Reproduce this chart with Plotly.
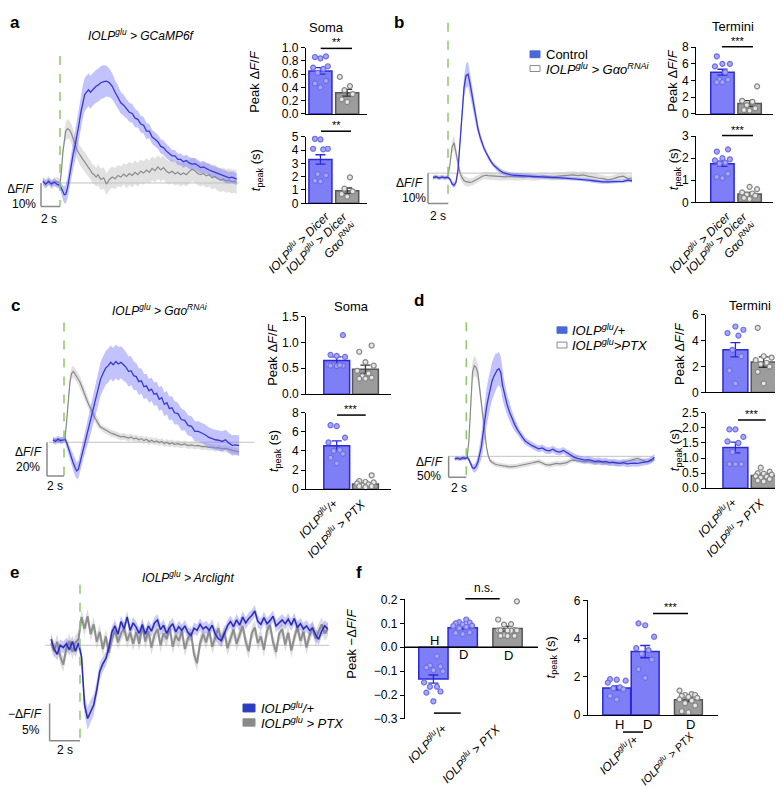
import plotly.graph_objects as go

W, H = 783, 789
FONT = "Liberation Sans, Arial, Helvetica, sans-serif"

# ======================= DATA =======================
# ---- panel a traces (time s, dF/F %) ----
T_A = [-1.8, -1.5, -1.2, -0.9, -0.6, -0.3, 0.0,
       0.15, 0.3, 0.45, 0.6, 0.8, 1.0, 1.2, 1.4, 1.6, 1.8,
       2.0, 2.2, 2.4, 2.6, 2.8, 3.0, 3.2, 3.4, 3.6, 3.8,
       4.0, 4.3, 4.6, 4.9, 5.2, 5.5, 5.8, 6.1, 6.4, 6.7,
       7.0, 7.3, 7.6, 7.9, 8.2, 8.5, 8.8, 9.1, 9.4, 9.7,
       10.0, 10.3, 10.6, 10.9, 11.2, 11.5, 11.8, 12.1, 12.4, 12.7,
       13.0, 13.3, 13.6, 13.9, 14.2, 14.5, 14.8, 15.1, 15.4, 15.7,
       16.0, 16.3, 16.6, 16.9, 17.2, 17.5, 17.8, 18.1, 18.4, 18.6]
A_BLUE = [0.8, -0.5, 0.6, -0.3, 0.4, -0.6, -1.0,
          -2.5, -4.0, -5.0, -4.8, -2.0, 3.0, 8.0, 12.5, 16.0, 20.0,
          25.0, 30.0, 34.5, 37.5, 38.5, 39.5, 38.5, 39.5, 40.5, 41.0,
          41.5, 42.5, 43.0, 43.2, 42.5, 41.0, 38.5, 36.5, 34.0, 33.0,
          31.5, 30.0, 29.5, 27.5, 27.0, 25.0, 24.5, 22.0, 22.0, 19.5,
          18.5, 17.5, 15.5, 15.0, 13.5, 12.5, 11.5, 11.5, 10.0, 10.0,
          9.0, 9.5, 8.5, 8.0, 8.2, 7.5, 6.5, 6.8, 6.0, 5.5,
          5.0, 4.5, 4.0, 3.5, 3.0, 2.5, 2.2, 2.5, 1.8, 1.6]
A_BLUE_SEM = ([1.5] * 7 + [2.5, 3, 3.5, 4, 4.5, 5, 5.5, 6, 6.5, 7] + [7] * 10 +
              [7, 7, 7, 6.5, 6, 5.5, 5, 5, 4.5, 4.5] + [4, 4, 4, 4, 3.5, 3.5, 3.5, 3.5, 3, 3] +
              [3] * 6 + [2.5] * 24)
A_GRAY = [0.5, -0.5, 1.0, -0.8, 0.3, 0.6, -0.2,
          5.0, 13.0, 19.0, 22.0, 23.0, 22.5, 21.0, 18.5, 16.0, 14.0,
          12.5, 11.0, 10.0, 9.0, 7.5, 6.5, 5.5, 4.0, 3.5, 2.5,
          3.5, 1.5, 2.2, -0.5, 1.5, 2.5, 1.8, 3.2, 2.5, 3.8,
          2.8, 4.0, 3.2, 4.5, 3.5, 5.0, 4.2, 5.5, 4.5, 6.2,
          5.2, 6.8, 5.5, 6.5, 5.0, 4.2, 5.0, 3.8, 4.5, 3.5,
          4.2, 3.5, 4.8, 5.8, 5.2, 4.0, 3.5, 4.0, 3.0, 3.5,
          2.2, 2.8, 1.8, 1.2, 1.6, 0.8, 1.2, 0.5, 0.8, 0.4]
A_GRAY_SEM = [2] * 7 + [2, 3, 3.5, 4, 4, 4, 4, 4, 4, 4] + [4] * 10 + [4.5] * 10 + [5] * 40

# ---- panel b traces ----
T_B = [-1.5, -1.2, -0.9, -0.6, -0.3, 0.0,
       0.2, 0.4, 0.6, 0.8, 1.0, 1.2, 1.4, 1.6, 1.8, 2.0,
       2.2, 2.4, 2.6, 2.8, 3.0, 3.2, 3.4, 3.6, 3.8, 4.0,
       4.3, 4.6, 4.9, 5.2, 5.5, 5.8, 6.2, 6.6, 7.0, 7.5,
       8.0, 8.5, 9.0, 9.5, 10.0, 10.5, 11.0, 11.5, 12.0, 12.5,
       13.0, 13.5, 14.0, 14.5, 15.0, 15.5, 16.0, 16.5, 17.0, 17.5,
       18.0, 18.4]
B_BLUE = [-1.5, -1.2, -1.6, -1.3, -1.5, -1.4,
          -2.0, -3.5, -4.0, -3.0, 1.0, 10.0, 20.0, 28.0, 32.0, 32.5,
          29.5, 25.5, 21.5, 17.5, 14.5, 12.0, 10.0, 8.2, 6.8, 5.5,
          3.8, 2.5, 1.5, 0.8, 0.2, -0.2, -0.5, -0.7, -0.8, -0.9,
          -1.0, -1.1, -1.2, -1.3, -1.4, -1.5, -1.5, -1.6, -1.7, -1.8,
          -1.9, -2.1, -2.3, -2.5, -2.8, -2.9, -2.9, -2.8, -2.6, -2.7,
          -2.3, -2.5]
B_BLUE_SEM = ([0.6] * 6 + [0.6, 0.8, 1, 1, 1.5, 2.5, 3, 3.5, 4, 4] +
              [3.5, 3, 2.5, 2, 1.8, 1.5, 1.2, 1, 1, 1] + [0.8] * 10 + [0.6] * 22)
B_GRAY = [-1.4, -1.2, -1.5, -1.3, -1.6, -1.0,
          3.0, 8.5, 10.0, 7.0, 3.0, 0.0, -1.5, -2.4, -2.8, -3.0,
          -3.0, -2.9, -2.6, -2.2, -2.0, -1.5, -1.0, -0.8, -0.7, -0.8,
          -0.9, -1.0, -1.1, -1.2, -1.3, -1.2, -1.1, -1.2, -1.3, -1.2,
          -1.1, -1.3, -1.2, -1.0, -1.1, -1.2, -1.0, -0.9, -0.7, -0.6,
          -0.8, -0.6, -1.0, -1.4, -1.6, -1.8, -2.2, -1.9, -1.3, -1.0,
          -1.8, -1.6]
B_GRAY_SEM = [0.8] * 6 + [1, 2, 2.5, 2, 1.5, 1.5, 1.5, 1.5, 1.5, 1.5] + [1.2] * 42

# ---- panel c traces ----
T_C = [-1.3, -1.0, -0.7, -0.4, -0.1, 0.1,
       0.3, 0.5, 0.7, 0.9, 1.1, 1.3, 1.5, 1.7, 1.9, 2.1,
       2.3, 2.5, 2.7, 2.9, 3.1, 3.3, 3.5, 3.7, 3.9, 4.1,
       4.3, 4.6, 4.9, 5.2, 5.5, 5.8, 6.1, 6.4, 6.7, 7.0,
       7.3, 7.6, 7.9, 8.2, 8.5, 8.8, 9.1, 9.4, 9.7, 10.0,
       10.3, 10.6, 10.9, 11.2, 11.5, 11.8, 12.1, 12.4, 12.7, 13.0,
       13.4, 13.8, 14.2, 14.6, 15.0, 15.4, 15.8, 16.2, 16.6, 17.0,
       17.4, 17.8, 18.2, 18.6, 19.0, 19.4, 19.8, 20.2, 20.6]
C_BLUE = [1.5, 0.5, 2.0, 0.8, 1.5, 2.0,
          0.0, -3.5, -6.5, -9.5, -12.5, -15.0, -17.0, -16.0, -12.0, -7.5,
          -3.5, 1.0, 4.5, 8.0, 12.5, 16.0, 20.0, 24.5, 28.5, 33.0,
          37.5, 41.0, 44.0, 45.5, 47.5, 46.0, 48.0, 46.5, 47.5, 46.0,
          44.5, 42.0, 42.5, 39.5, 39.0, 36.0, 36.5, 33.0, 33.5, 30.5,
          31.5, 28.5, 29.0, 25.5, 26.5, 22.5, 23.5, 20.0, 20.5, 17.5,
          17.0, 13.5, 13.0, 10.0, 9.5, 6.5, 6.5, 5.5, 4.5, 3.0,
          2.0, 1.5, 1.2, 0.5, 1.5, -0.5, -1.8, -1.5, -2.0]
C_BLUE_SEM = ([2] * 6 + [2, 3, 3.5, 4, 4.5, 5, 5, 5, 5.5, 6] +
              [6, 6.5, 7, 7.5, 8, 8, 8.5, 9, 9, 9.5] + [10] * 8 + [9.5] * 2 +
              [9, 9, 8.5, 8.5, 8, 8, 7.5, 7.5, 7, 7] + [7] * 10 + [6.5] * 2 + [6] * 17)
C_GRAY = [0.8, 1.5, 0.5, 1.8, 1.0, 1.5,
          12.0, 26.0, 36.0, 41.0, 42.0, 40.5, 39.0, 37.5, 35.5, 33.0,
          30.0, 27.5, 25.0, 22.5, 20.0, 18.0, 16.0, 14.0, 12.0, 10.5,
          9.0, 8.0, 7.0, 6.5, 5.5, 5.0, 4.5, 4.0, 3.2, 3.5,
          2.8, 2.5, 3.2, 2.0, 2.6, 1.5, 2.2, 1.0, 1.8, 0.5,
          1.2, 0.2, 0.8, -0.2, 0.5, -0.8, 0.0, -1.0, -0.4, -1.2,
          -0.8, -1.5, -1.0, -2.0, -1.6, -2.2, -1.8, -2.6, -2.4, -3.0,
          -2.8, -3.4, -3.2, -3.9, -3.6, -4.4, -4.8, -5.2, -5.8]
C_GRAY_SEM = ([1.5] * 6 + [2, 3, 3.5, 3.5, 3.5, 3.5, 3.5, 3.5, 3.5, 3.5] +
              [3.5, 3, 3, 3, 3, 3, 2.5, 2.5, 2.5, 2.5] + [2] * 49)

# ---- panel d traces ----
T_D = [-1.3, -1.0, -0.7, -0.4, -0.1, 0.1,
       0.3, 0.5, 0.7, 0.9, 1.1, 1.3, 1.5, 1.7, 1.9, 2.1,
       2.3, 2.5, 2.7, 2.9, 3.1, 3.3, 3.5, 3.7, 3.9, 4.1,
       4.3, 4.6, 4.9, 5.2, 5.5, 5.8, 6.1, 6.4, 6.7, 7.0,
       7.4, 7.8, 8.2, 8.6, 9.0, 9.4, 9.8, 10.2, 10.6, 11.0,
       11.4, 11.8, 12.2, 12.6, 13.0, 13.4, 13.8, 14.2, 14.6, 15.0,
       15.4, 15.8, 16.2, 16.6, 17.0, 17.4, 17.8, 18.2, 18.6, 19.0,
       19.4, 19.8, 20.2, 20.6, 21.0, 21.3]
D_BLUE = [-6, -4, -7, -3, -5, -2,
          -8, -18, -27, -29, -24, -15, 3, 22, 55, 88,
          118, 140, 160, 178, 190, 200, 206, 209, 200, 170,
          150, 125, 105, 88, 75, 63, 52, 44, 36, 31,
          26, 22, 18, 20, 15, 13, 17, 12, 10, 14,
          8, 4, -2, -5, -7, -9, -8, -10, -12, -11,
          -13, -12, -15, -14, -16, -17, -15, -18, -17, -16,
          -17, -15, -13, -12, -8, -2]
D_BLUE_SEM = ([5] * 6 + [5, 6, 8, 10, 12, 15, 20, 30, 40, 45] +
              [45, 45, 45, 45, 45, 45, 40, 40, 38, 35] +
              [30, 25, 22, 18, 15, 12, 10, 10, 9, 9] + [8] * 36)
D_GRAY = [-5, -6, -4, -6, -5, -3,
          40, 130, 200, 216, 212, 200, 165, 125, 90, 50,
          20, 0, -10, -14, -17, -19, -20, -21, -22, -22,
          -23, -24, -25, -25, -24, -23, -22, -21, -20, -18,
          -16, -14, -12, -16, -20, -21, -19, -17, -18, -17,
          -15, -10, -9, -11, -12, -13, -12, -14, -15, -14,
          -15, -16, -15, -16, -17, -16, -14, -12, -10, -7,
          -5, -8, -12, -13, -10, -8]
D_GRAY_SEM = [4] * 6 + [10, 20, 25, 25, 22, 20, 18, 15, 12, 10] + [6] * 56

# ---- panel e traces (sampled every 0.2 s from -1.9 s), -dF/F % ----
E_T0, E_DT = -1.9, 0.2
E_BLUE = [0.8, -0.5, -1.2, 0.0, -0.3, 0.2, -0.6, 0.5, -0.8, 0.3,
          -1.5, -8.0, -9.8, -8.8, -8.0, -6.0, -3.5, -2.5, -1.8, -0.3,
          1.8, 2.6, 1.5, 3.2, 2.2, 3.8, 2.0, 3.0,
          2.4, 1.6, 2.8, 1.5, 2.6, 1.9, 3.0, 3.4, 2.1, 2.7,
          1.6, 2.4, 2.9, 1.8, 2.5, 2.0, 2.6, 1.7, 1.3, 2.3,
          2.0, 2.8, 2.2, 2.5, 2.0, 2.7, 1.5, 0.9, 0.6, 1.6,
          2.6, 3.2, 2.5, 3.4, 2.7, 3.8, 3.0, 3.6, 4.0, 4.6,
          3.2, 2.8, 3.7, 2.9, 3.3, 3.9, 2.6, 3.0, 3.4, 2.9,
          3.5, 2.7, 3.6, 2.4, 2.9, 2.2, 2.6, 2.0, 2.3, 1.4,
          0.8, 1.9, 2.6, 2.2]
E_BLUE_SEM = [0.8] * 10 + [1.0, 1.3, 1.5, 1.5, 1.4, 1.3, 1.2, 1.0, 1.0, 0.9] + [0.8] * 72
E_GRAY = [0.3, -0.8, 0.5, -1.5, -2.6, -0.4, 0.6, -0.9, 0.4, 0.8,
          3.8, 2.2, 3.9, 1.5, 2.8, 0.5, 1.8, -0.5, 1.2, -1.0,
          0.8, 2.0, 0.4, 1.6, 2.3, 0.6, 1.7, 0.2,
          1.8, 0.2, 2.5, 0.5, 1.9, -0.3, 1.4, 2.2, 0.0, 1.6,
          0.8, 2.4, -0.2, 1.3, 0.6, 1.9, -0.5, 0.9, 1.7, -1.2,
          -2.4, 0.3, 1.5, 0.4, 2.0, -0.2, 1.1, 2.3, 0.7, 1.8,
          -0.4, 0.9, 2.1, 0.2, 1.4, 2.6, 0.5, -0.8, 1.6, 2.4,
          0.3, 1.2, -0.6, 1.9, 2.7, 0.4, -0.9, 1.5, 2.2, 0.1,
          1.7, -0.7, 1.0, 2.5, 0.6, 1.8, -0.3, 1.3, 2.4, 0.9,
          1.9, 2.8, 1.6, 2.2]
E_GRAY_SEM = [1.0] * 92

# ---- bar data: means, sems and individual points ----
A_PEAK_MEAN, A_PEAK_SEM = [0.65, 0.32], [0.05, 0.05]
A_PEAK_CTRL = [0.87, 0.86, 0.84, 0.72, 0.70, 0.68, 0.62, 0.50, 0.46, 0.40]
A_PEAK_RNAI = [0.56, 0.42, 0.36, 0.30, 0.22, 0.18]
A_TPK_MEAN, A_TPK_SEM = [3.3, 0.95], [0.35, 0.2]
A_TPK_CTRL = [4.8, 4.85, 4.1, 4.1, 4.05, 2.2, 2.1, 1.7, 1.65]
A_TPK_RNAI = [1.95, 1.1, 0.9, 0.7, 0.5]

B_PEAK_MEAN, B_PEAK_SEM = [5.0, 1.25], [0.35, 0.35]
B_PEAK_CTRL = [6.9, 6.0, 6.0, 5.7, 5.0, 4.1, 4.1, 3.8, 3.8]
B_PEAK_RNAI = [3.3, 1.57, 1.45, 1.06, 0.67, 0.47, 0.4]
B_TPK_MEAN, B_TPK_SEM = [1.75, 0.38], [0.12, 0.07]
B_TPK_CTRL = [2.4, 2.3, 2.0, 1.95, 1.9, 1.8, 1.75, 1.3, 1.15, 1.1]
B_TPK_RNAI = [0.7, 0.6, 0.45, 0.4, 0.35, 0.3, 0.2, 0.15]

C_PEAK_MEAN, C_PEAK_SEM = [0.65, 0.48], [0.07, 0.08]
C_PEAK_CTRL = [1.14, 0.76, 0.74, 0.72, 0.57, 0.56, 0.55, 0.55, 0.54, 0.56]
C_PEAK_PTX = [0.94, 0.82, 0.62, 0.55, 0.45, 0.40, 0.35, 0.32, 0.30, 0.30]
C_TPK_MEAN, C_TPK_SEM = [4.55, 0.55], [0.5, 0.12]
C_TPK_CTRL = [6.7, 6.6, 5.4, 4.9, 4.1, 4.0, 3.7, 3.3, 2.7]
C_TPK_PTX = [1.45, 0.85, 0.75, 0.7, 0.6, 0.5, 0.4, 0.3, 0.2, 0.3]

D_PEAK_MEAN, D_PEAK_SEM = [3.3, 2.35], [0.55, 0.4]
D_PEAK_CTRL = [5.1, 4.85, 4.6, 4.4, 3.3, 2.8, 1.7, 0.7]
D_PEAK_PTX = [5.0, 2.8, 2.7, 2.5, 2.3, 2.2, 2.0, 1.6, 0.7]
D_TPK_MEAN, D_TPK_SEM = [1.35, 0.42], [0.18, 0.05]
D_TPK_CTRL = [1.95, 1.95, 1.7, 1.55, 1.5, 1.2, 0.8, 0.8, 0.8]
D_TPK_PTX = [0.68, 0.55, 0.5, 0.48, 0.45, 0.4, 0.38, 0.35, 0.3, 0.25, 0.22]

F_PEAK_MEAN, F_PEAK_SEM = [-0.133, 0.082, 0.078], [0.017, 0.006, 0.01]
F_PEAK_H = [-0.037, -0.076, -0.08, -0.085, -0.096, -0.10, -0.147, -0.165, -0.165, -0.185, -0.19, -0.226]
F_PEAK_D = [0.116, 0.105, 0.103, 0.1, 0.095, 0.09, 0.089, 0.085, 0.08, 0.062, 0.055, 0.06]
F_PEAK_PTX = [0.192, 0.116, 0.097, 0.095, 0.072, 0.07, 0.07, 0.069, 0.07, 0.071, 0.05, 0.048, 0.047, 0.048]
F_TPK_MEAN, F_TPK_SEM = [1.42, 3.32, 0.8], [0.1, 0.32, 0.1]
F_TPK_H = [1.88, 1.85, 1.8, 1.7, 1.45, 1.4, 1.35, 1.0, 0.82]
F_TPK_D = [4.8, 4.7, 4.1, 3.5, 3.4, 3.2, 2.9, 2.4, 1.95]
F_TPK_PTX = [1.28, 1.1, 1.05, 1.05, 1.0, 0.95, 0.9, 0.82, 0.75, 0.62, 0.5, 0.2, 0.15]

# ======================= FIGURE =======================
fig = go.Figure()
axes = {}
shapes = []
annotations = []
n_ax = [0]

COL = {
    'blue': dict(fill='#7e7ef6', edge='#2a2ad8', pfill='#a8a8f8', pedge='#6e6ee6', err='#2a2ad8'),
    'gray': dict(fill='#9c9c9c', edge='#555555', pfill='#e6e6e6', pedge='#858585', err='#333333'),
}


def new_axes(x0, x1, y0, y1, xr, yr):
    n_ax[0] += 1
    k = n_ax[0]
    s = '' if k == 1 else str(k)
    axes['xaxis' + s] = dict(domain=[x0 / W, x1 / W], range=xr, anchor='y' + s,
                             visible=False, fixedrange=True, showgrid=False, zeroline=False)
    axes['yaxis' + s] = dict(domain=[1 - y1 / H, 1 - y0 / H], range=yr, anchor='x' + s,
                             visible=False, fixedrange=True, showgrid=False, zeroline=False)
    return 'x' + s, 'y' + s, s


def text(xp, yp, s, size=12, xa='center', ya='middle', angle=0, align='center', color='black'):
    annotations.append(dict(x=xp / W, y=1 - yp / H, xref='paper', yref='paper', text=s,
                            showarrow=False, xanchor=xa, yanchor=ya, textangle=angle, align=align,
                            font=dict(size=size, family=FONT, color=color), borderpad=0))


def pline(x0, x1, y0, y1, color='black', width=1.3):
    shapes.append(dict(type='line', xref='paper', yref='paper', x0=x0 / W, x1=x1 / W,
                       y0=1 - y0 / H, y1=1 - y1 / H, line=dict(color=color, width=width)))


def prect(x0, y0, x1, y1, fill, edge):
    shapes.append(dict(type='rect', xref='paper', yref='paper', x0=x0 / W, x1=x1 / W,
                       y0=1 - y1 / H, y1=1 - y0 / H, fillcolor=fill, line=dict(color=edge, width=1)))


STYLE_STD = dict(bline='#3838d4', bw=1.3, bband='rgba(120,120,250,0.45)',
                 gline='#8a8a8a', gw=1.2, gband='rgba(195,195,195,0.5)')
STYLE_E = dict(bline='#2c2cb8', bw=1.6, bband='rgba(105,105,235,0.35)',
               gline='#8e8e8e', gw=2.0, gband='rgba(160,160,160,0.35)')


def trace_panel(box, t0px, pxs, y0py, pxpct, t, blue, bsem, gray, gsem, style,
                base_x, scale_y, green_top):
    xa, ya, s = new_axes(box[0], box[1], box[2], box[3],
                         [(box[0] - t0px) / pxs, (box[1] - t0px) / pxs],
                         [(y0py - box[3]) / pxpct, (y0py - box[2]) / pxpct])
    shapes.append(dict(type='line', xref=xa, yref=ya, x0=base_x[0], x1=base_x[1], y0=0, y1=0,
                       line=dict(color='#c2c2c2', width=1), layer='below'))
    for y, sem, band, lc, lw in [(gray, gsem, style['gband'], style['gline'], style['gw']),
                                 (blue, bsem, style['bband'], style['bline'], style['bw'])]:
        n = min(len(t), len(y), len(sem))
        tt = list(t[:n])
        up = [y[i] + sem[i] for i in range(n)]
        lo = [y[i] - sem[i] for i in range(n)]
        fig.add_trace(go.Scatter(x=tt + tt[::-1], y=up + lo[::-1], fill='toself', fillcolor=band,
                                 mode='lines', line=dict(width=0), hoverinfo='skip',
                                 showlegend=False, xaxis=xa, yaxis=ya))
        fig.add_trace(go.Scatter(x=tt, y=list(y[:n]), mode='lines', line=dict(color=lc, width=lw),
                                 showlegend=False, xaxis=xa, yaxis=ya))
    shapes.append(dict(type='line', xref=xa, yref=ya, x0=0, x1=0, y0=green_top, y1=scale_y[1],
                       line=dict(color='#8dc76c', width=1.5, dash='dash')))
    shapes.append(dict(type='line', xref=xa, yref=ya, x0=-2, x1=-2, y0=scale_y[0], y1=scale_y[1],
                       line=dict(color='#8a8a8a', width=1.5)))
    shapes.append(dict(type='line', xref=xa, yref=ya, x0=-2, x1=0, y0=scale_y[1], y1=scale_y[1],
                       line=dict(color='#8a8a8a', width=1.5)))


def jitter(vals, width):
    order = sorted(range(len(vals)), key=lambda i: vals[i])
    pattern = [0.0, -0.24, 0.24, -0.12, 0.12, -0.32, 0.32]
    offs = [0.0] * len(vals)
    for r, i in enumerate(order):
        offs[i] = pattern[r % len(pattern)] * width
    return offs


def bar_panel(box, xr, yr, tickvals, tickfmt, bars, width, xline=True):
    xa, ya, s = new_axes(box[0], box[1], box[2], box[3], xr, yr)
    axes['xaxis' + s].update(visible=True, showline=xline, linecolor='black', linewidth=1.3,
                             showticklabels=False, ticks='')
    axes['yaxis' + s].update(visible=True, showline=True, linecolor='black', linewidth=1.3,
                             ticks='outside', ticklen=4, tickwidth=1.3, tickcolor='black',
                             tickvals=tickvals, tickformat=tickfmt,
                             tickfont=dict(size=12, family=FONT, color='black'))
    for pos, mean, sem, pts, kind in bars:
        c = COL[kind]
        fig.add_trace(go.Bar(x=[pos], y=[mean], width=[width],
                             marker=dict(color=c['fill'], line=dict(color=c['edge'], width=1.5)),
                             error_y=dict(type='data', array=[sem], color=c['err'], thickness=1.3, width=5),
                             showlegend=False, xaxis=xa, yaxis=ya, hoverinfo='skip'))
        offs = jitter(pts, width)
        fig.add_trace(go.Scatter(x=[pos + o for o in offs], y=pts, mode='markers',
                                 marker=dict(size=5, color=c['pfill'], line=dict(color=c['pedge'], width=1.2)),
                                 showlegend=False, xaxis=xa, yaxis=ya, hoverinfo='skip', cliponaxis=False))
    return xa, ya


# ---------- panel a ----------
trace_panel((28, 238, 28, 200), 52, 9.5, 171, 2.4, T_A, A_BLUE, A_BLUE_SEM, A_GRAY, A_GRAY_SEM,
            STYLE_STD, (-1.8, 18.8), (0, -10), 53.9)
bar_panel((298, 359, 33.3, 100.7), [-0.54, 1.74], [0, 1.0], [0, 0.2, 0.4, 0.6, 0.8, 1.0], '.1f',
          [(0, A_PEAK_MEAN[0], A_PEAK_SEM[0], A_PEAK_CTRL, 'blue'),
           (1, A_PEAK_MEAN[1], A_PEAK_SEM[1], A_PEAK_RNAI, 'gray')], 0.86)
bar_panel((298, 359, 124, 191.7), [-0.54, 1.74], [0, 5], [0, 1, 2, 3, 4, 5], 'd',
          [(0, A_TPK_MEAN[0], A_TPK_SEM[0], A_TPK_CTRL, 'blue'),
           (1, A_TPK_MEAN[1], A_TPK_SEM[1], A_TPK_RNAI, 'gray')], 0.86)

# ---------- panel b ----------
trace_panel((414, 632, 0, 200), 440, 10, 161, 3.1, T_B, B_BLUE, B_BLUE_SEM, B_GRAY, B_GRAY_SEM,
            STYLE_STD, (-2.0, 18.4), (0, -10), 49.4)
bar_panel((688.3, 765, 32.7, 100.7), [-0.96, 1.86], [0, 8], [0, 2, 4, 6, 8], 'd',
          [(0, B_PEAK_MEAN[0], B_PEAK_SEM[0], B_PEAK_CTRL, 'blue'),
           (1, B_PEAK_MEAN[1], B_PEAK_SEM[1], B_PEAK_RNAI, 'gray')], 0.86)
bar_panel((688.3, 765, 123.3, 190.7), [-0.96, 1.86], [0, 3], [0, 1, 2, 3], 'd',
          [(0, B_TPK_MEAN[0], B_TPK_SEM[0], B_TPK_CTRL, 'blue'),
           (1, B_TPK_MEAN[1], B_TPK_SEM[1], B_TPK_RNAI, 'gray')], 0.86)

# ---------- panel c ----------
trace_panel((34, 250, 305, 475), 56, 8.5, 435, 1.715, T_C, C_BLUE, C_BLUE_SEM, C_GRAY, C_GRAY_SEM,
            STYLE_STD, (-1.8, 22.4), (0, -20), 71.1)
bar_panel((298.3, 383, 307, 386), [-1.06, 1.89], [0, 1.5], [0, 0.5, 1.0, 1.5], '.1f',
          [(0, C_PEAK_MEAN[0], C_PEAK_SEM[0], C_PEAK_CTRL, 'blue'),
           (1, C_PEAK_MEAN[1], C_PEAK_SEM[1], C_PEAK_PTX, 'gray')], 0.9)
bar_panel((298.3, 383, 405, 482.7), [-1.06, 1.89], [0, 8], [0, 2, 4, 6, 8], 'd',
          [(0, C_TPK_MEAN[0], C_TPK_SEM[0], C_TPK_CTRL, 'blue'),
           (1, C_TPK_MEAN[1], C_TPK_SEM[1], C_TPK_PTX, 'gray')], 0.9)

# ---------- panel d ----------
trace_panel((436, 652, 300, 476), 458.3, 8.83, 449.3, 0.427, T_D, D_BLUE, D_BLUE_SEM, D_GRAY, D_GRAY_SEM,
            STYLE_STD, (-2.0, 21.1), (0, -50), 319.7)
bar_panel((698.3, 781.7, 305.3, 384.3), [-1.03, 1.92], [0, 6], [0, 2, 4, 6], 'd',
          [(0, D_PEAK_MEAN[0], D_PEAK_SEM[0], D_PEAK_CTRL, 'blue'),
           (1, D_PEAK_MEAN[1], D_PEAK_SEM[1], D_PEAK_PTX, 'gray')], 0.88)
bar_panel((698.3, 781.7, 405, 481.7), [-1.03, 1.92], [0, 2.5], [0, 0.5, 1.0, 1.5, 2.0, 2.5], '.1f',
          [(0, D_TPK_MEAN[0], D_TPK_SEM[0], D_TPK_CTRL, 'blue'),
           (1, D_TPK_MEAN[1], D_TPK_SEM[1], D_TPK_PTX, 'gray')], 0.88)

# ---------- panel e ----------
T_E = [round(E_T0 + E_DT * i, 2) for i in range(len(E_BLUE))]
trace_panel((34, 326, 575, 745), 72, 15.2, 641.7, 7.6, T_E, E_BLUE, E_BLUE_SEM, E_GRAY, E_GRAY_SEM,
            STYLE_E, (-2.3, 16.4), (-7.8, -12.8), 8.1)

# ---------- panel f ----------
fxa, fya = bar_panel((397, 530, 595, 716.7), [-0.97, 3.57], [-0.3, 0.2],
                     [-0.3, -0.2, -0.1, 0.0, 0.1, 0.2], '.1f',
                     [(0, F_PEAK_MEAN[0], F_PEAK_SEM[0], F_PEAK_H, 'blue'),
                      (1, F_PEAK_MEAN[1], F_PEAK_SEM[1], F_PEAK_D, 'blue'),
                      (2.53, F_PEAK_MEAN[2], F_PEAK_SEM[2], F_PEAK_PTX, 'gray')], 1.0, xline=False)
shapes.append(dict(type='line', xref=fxa, yref=fya, x0=-0.97, x1=3.57, y0=0, y1=0,
                   line=dict(color='black', width=1.3)))
bar_panel((580, 710, 596, 712.7), [-1.01, 3.56], [0, 6], [0, 2, 4, 6], 'd',
          [(0, F_TPK_MEAN[0], F_TPK_SEM[0], F_TPK_H, 'blue'),
           (1, F_TPK_MEAN[1], F_TPK_SEM[1], F_TPK_D, 'blue'),
           (2.52, F_TPK_MEAN[2], F_TPK_SEM[2], F_TPK_PTX, 'gray')], 0.98)

# ======================= TEXT =======================
IOLP = "<i>IOLP<sup>glu</sup>"
for lbl, x, y in [('a', 7, 8), ('b', 391, 8), ('c', 7, 296), ('d', 411, 291), ('e', 6, 568), ('f', 351, 568)]:
    text(x, y, '<b>%s</b>' % lbl, size=17)

text(133, 20, IOLP + " &gt; GCaMP6f</i>", size=12)
text(152, 300, IOLP + " &gt; Gαo<sup>RNAi</sup></i>", size=12)
text(180, 572, IOLP + " &gt; Arclight</i>", size=12)
text(318, 13, "Soma", size=13)
text(725, 12, "Termini", size=13)
text(343, 297, "Soma", size=13)
text(742, 296, "Termini", size=13)

PEAK = "Peak Δ<i>F</i>/<i>F</i>"
TPK = "<i>t</i><sub>peak</sub> (s)"
for s, x, y in [(PEAK, 247, 67), (TPK, 248, 158), (PEAK, 665, 67), (TPK, 666, 157),
                (PEAK, 265, 346), (TPK, 266, 444), (PEAK, 672, 345), (TPK, 667, 443),
                ("Peak −Δ<i>F</i>/<i>F</i>", 344, 640), (TPK, 543, 654)]:
    text(x, y, s, size=13, angle=-90)

# rotated x labels (top-right anchored)
DICER = IOLP + " &gt; Dicer</i>"
DICER2 = IOLP + " &gt; Dicer<br>Gαo<sup>RNAi</sup></i>"
PLUS = IOLP + "/+</i>"
PTX = IOLP + " &gt; PTX</i>"
for s, x, y, fs in [(DICER, 326, 195, 12), (DICER2, 355, 195, 12), (DICER, 727, 195, 12), (DICER2, 755, 195, 12),
                    (PLUS, 334, 487, 12), (PTX, 362, 487, 12), (PLUS, 733, 486, 12), (PTX, 761, 486, 12),
                    (PLUS, 443, 716, 12), (PTX, 497, 716, 12), (PLUS, 635, 728, 12), (PTX, 690, 725, 11)]:
    text(x, y, s, size=fs, xa='right', ya='top', angle=-45, align='right')

# scale bar labels
DFF = "Δ<i>F</i>/<i>F</i>"
text(27, 177, DFF, size=12, xa='right'); text(16, 192, "10%", size=12); text(41, 208, "2 s", size=12)
text(416, 171, DFF, size=12, xa='right'); text(406, 186, "10%", size=12); text(430, 205, "2 s", size=12)
text(20, 445, DFF, size=12); text(20, 460, "20%", size=12); text(47, 480, "2 s", size=12)
text(421, 455, DFF, size=12); text(421, 469, "50%", size=12); text(451, 482, "2 s", size=12)
text(17, 712, "−" + DFF, size=12); text(23, 728, "5%", size=12); text(57, 748, "2 s", size=12)

# legends
prect(522, 36.5, 532, 43.5, '#4a68d8', '#4a68d8')
prect(522, 51.5, 532, 57.5, 'white', '#8a8a8a')
text(537, 40, "Control", size=13, xa='left')
text(537, 55, IOLP + " &gt; Gαo<sup>RNAi</sup></i>", size=13, xa='left')
prect(549, 317.5, 559, 324, '#4a68d8', '#4a68d8')
prect(549, 333, 559, 339, 'white', '#8a8a8a')
text(563, 321, IOLP + "/+</i>", size=13, xa='left')
text(563, 336, IOLP + "&gt;PTX</i>", size=13, xa='left')
prect(235, 701.5, 247, 709.5, '#2c3cbe', '#2c3cbe')
prect(235, 716.5, 247, 724, '#8a8a8a', '#8a8a8a')
text(252, 705.5, IOLP + "/+</i>", size=13, xa='left')
text(252, 720.5, IOLP + " &gt; PTX</i>", size=13, xa='left')

# significance
for x0, x1, y, s in [(312.7, 344, 34, "**"), (313, 343, 118.3, "**"), (714, 745, 32.3, "***"),
                     (714, 745, 122.7, "***"), (329, 357.7, 407.3, "***"), (730, 757.7, 412.3, "***"),
                     (645, 680, 609.3, "***")]:
    pline(x0, x1, y, y, width=1.5)
    text((x0 + x1) / 2, y + 1, s, size=11, ya='bottom')
pline(457.3, 491.7, 594.3, 594.3, width=1.5)
text(475, 591, "n.s.", size=12, ya='bottom')
pline(426, 452.7, 710.7, 710.7, width=1.5)
pline(615, 635, 730, 730, width=1.5)

# H / D labels
for s, x, y in [("H", 426, 637), ("D", 455, 651), ("D", 501, 652),
                ("H", 611, 722), ("D", 639, 722), ("D", 682, 722)]:
    text(x, y, s, size=13)

fig.update_layout(width=W, height=H, margin=dict(l=0, r=0, t=0, b=0),
                  paper_bgcolor='white', plot_bgcolor='rgba(0,0,0,0)', showlegend=False,
                  barmode='overlay', shapes=shapes, annotations=annotations,
                  font=dict(family=FONT, size=12, color='black'), **axes)
fig.write_html("out.html")
